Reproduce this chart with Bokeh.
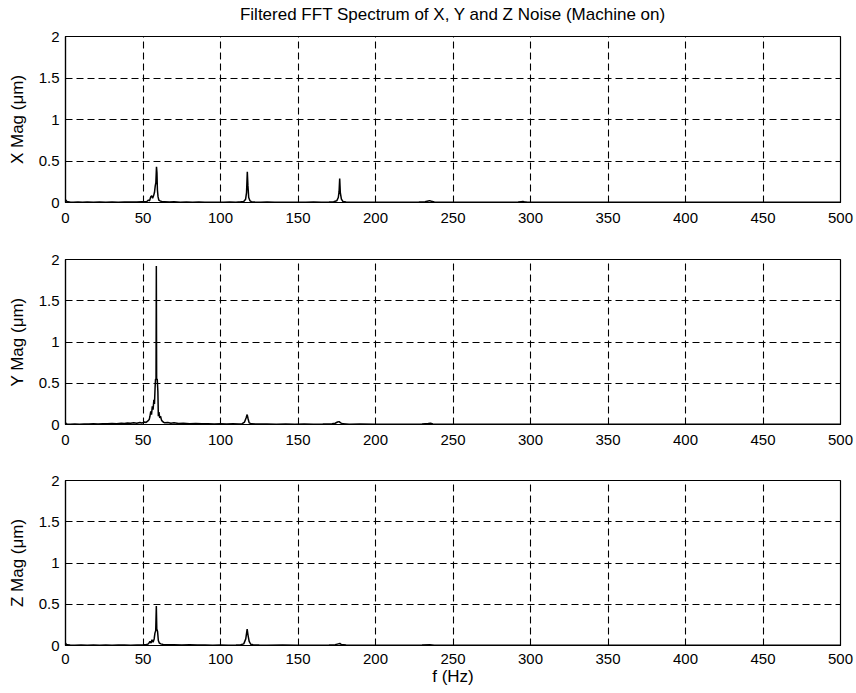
from bokeh.plotting import figure
from bokeh.layouts import column
from bokeh.models import ColumnDataSource, FixedTicker, CustomJSTickFormatter, Range1d, Title
from bokeh.embed import file_html
from bokeh.resources import INLINE

# Filtered FFT magnitude spectra (frequency in Hz, magnitude in micrometres)
freq_x = [0, 0.5, 1, 2, 3, 5, 8, 11, 14, 18, 22, 26, 30, 34, 38, 42, 46, 49, 51, 52.5,
          53.5, 54.2, 55, 55.6, 56.2, 56.8, 57.4, 57.9, 58.3, 58.7, 59.0, 59.3, 59.7, 60.2,
          61, 62, 64, 67, 70, 74, 78, 82, 86, 90, 94, 98, 102, 106, 110, 113, 115, 116.2,
          116.8, 117.3, 117.7, 118.2, 119, 120, 122, 126, 130, 135, 140, 145, 150, 155, 160,
          165, 170, 173, 175, 176, 176.5, 176.9, 177.3, 178, 179, 181, 185, 190, 200, 210,
          220, 228, 232, 234, 235, 236, 238, 244, 255, 265, 275, 285, 292, 294, 295, 296, 298,
          310, 330, 350, 370, 390, 410, 430, 450, 470, 490, 500]
mag_x = [0.035, 0.02, 0.012, 0.008, 0.006, 0.004, 0.005, 0.003, 0.005, 0.004, 0.006, 0.004,
         0.005, 0.003, 0.005, 0.006, 0.005, 0.008, 0.01, 0.012, 0.03, 0.02, 0.07, 0.08, 0.05,
         0.08, 0.12, 0.2, 0.24, 0.43, 0.36, 0.15, 0.07, 0.03, 0.02, 0.012, 0.01, 0.006, 0.008,
         0.004, 0.006, 0.003, 0.005, 0.004, 0.003, 0.004, 0.003, 0.005, 0.004, 0.008, 0.012,
         0.04, 0.12, 0.37, 0.2, 0.06, 0.02, 0.01, 0.006, 0.004, 0.005, 0.003, 0.004, 0.003,
         0.004, 0.003, 0.005, 0.004, 0.006, 0.01, 0.02, 0.06, 0.13, 0.29, 0.12, 0.04, 0.012,
         0.006, 0.004, 0.003, 0.004, 0.003, 0.004, 0.006, 0.01, 0.018, 0.022, 0.014, 0.006,
         0.003, 0.004, 0.002, 0.003, 0.003, 0.006, 0.01, 0.012, 0.008, 0.003, 0.002, 0.003,
         0.002, 0.003, 0.002, 0.003, 0.002, 0.002, 0.003, 0.002, 0.002]

freq_y = [0, 0.5, 1, 3, 6, 9, 12, 15, 18, 21, 24, 27, 30, 33, 36, 38, 40, 42, 44, 46, 48, 49,
          50, 51, 52, 53, 54, 54.5, 55, 55.5, 56, 56.5, 57, 57.4, 57.8, 58.1, 58.4, 58.6, 58.8,
          59.2, 59.6, 59.9, 60.3, 60.8, 61.3, 62, 63, 64, 66, 68, 70, 73, 76, 80, 84, 88, 92,
          96, 100, 104, 108, 112, 114, 115.5, 116.5, 117.2, 117.8, 118.5, 120, 124, 130, 136,
          142, 148, 154, 160, 166, 172, 174, 175.5, 176.5, 177.5, 179, 183, 190, 200, 210, 220,
          230, 234, 235.5, 237, 245, 260, 280, 300, 320, 350, 380, 410, 440, 470, 500]
mag_y = [0.02, 0.01, 0.006, 0.004, 0.006, 0.004, 0.007, 0.005, 0.008, 0.006, 0.01, 0.008,
         0.012, 0.01, 0.015, 0.012, 0.018, 0.014, 0.022, 0.016, 0.025, 0.018, 0.02, 0.03,
         0.025, 0.04, 0.06, 0.1, 0.16, 0.12, 0.22, 0.18, 0.3, 0.25, 0.45, 0.55, 0.55, 1.92,
         0.55, 0.55, 0.4, 0.1, 0.15, 0.08, 0.1, 0.05, 0.03, 0.02, 0.025, 0.015, 0.02, 0.012,
         0.015, 0.01, 0.012, 0.008, 0.01, 0.007, 0.009, 0.006, 0.008, 0.006, 0.01, 0.03, 0.08,
         0.12, 0.07, 0.02, 0.008, 0.005, 0.006, 0.004, 0.005, 0.004, 0.006, 0.004, 0.005,
         0.008, 0.015, 0.03, 0.035, 0.02, 0.008, 0.004, 0.005, 0.003, 0.004, 0.003, 0.006,
         0.012, 0.015, 0.006, 0.003, 0.002, 0.003, 0.002, 0.003, 0.002, 0.002, 0.003, 0.002,
         0.002, 0.002]

freq_z = [0, 0.5, 1, 3, 6, 10, 14, 18, 22, 26, 30, 34, 38, 42, 46, 50, 52, 53.5, 54.5, 55.2,
          55.8, 56.5, 57.2, 57.7, 58.2, 58.6, 58.9, 59.4, 59.9, 60.5, 61.5, 63, 66, 70, 75, 80,
          85, 90, 95, 100, 105, 110, 113, 115, 116.3, 117.2, 117.8, 118.5, 119.5, 121, 125,
          130, 140, 150, 160, 170, 174, 176, 177, 178, 181, 190, 200, 215, 230, 235, 238, 250,
          270, 300, 330, 360, 400, 440, 470, 500]
mag_z = [0.03, 0.015, 0.008, 0.005, 0.004, 0.005, 0.003, 0.005, 0.004, 0.006, 0.004, 0.005,
         0.006, 0.004, 0.006, 0.008, 0.01, 0.02, 0.05, 0.03, 0.07, 0.04, 0.08, 0.15, 0.18,
         0.48, 0.2, 0.17, 0.06, 0.03, 0.02, 0.012, 0.008, 0.01, 0.006, 0.008, 0.005, 0.006,
         0.004, 0.005, 0.004, 0.006, 0.01, 0.02, 0.08, 0.2, 0.12, 0.05, 0.015, 0.008, 0.005,
         0.004, 0.005, 0.003, 0.004, 0.005, 0.01, 0.02, 0.025, 0.012, 0.005, 0.003, 0.004,
         0.003, 0.005, 0.008, 0.004, 0.003, 0.002, 0.003, 0.002, 0.003, 0.002, 0.002, 0.003,
         0.002]

x_ticks = [0, 50, 100, 150, 200, 250, 300, 350, 400, 450, 500]
y_ticks = [0, 0.5, 1, 1.5, 2]
y_labels = ["X Mag (μm)", "Y Mag (μm)", "Z Mag (μm)"]
title_text = "Filtered FFT Spectrum of X, Y and Z Noise (Machine on)"
x_label = "f (Hz)"

FONT = "Liberation Sans"


def make_panel(freq, mag, ylabel, height, top, bottom, show_xlabel=False):
    p = figure(width=856, height=height, output_backend="svg", toolbar_location=None,
               x_range=Range1d(0, 500), y_range=Range1d(0, 2),
               min_border_left=65, min_border_right=16,
               min_border_top=top, min_border_bottom=bottom)
    p.background_fill_color = "white"
    p.border_fill_color = "white"
    p.outline_line_color = "black"
    p.outline_line_width = 1.2

    src = ColumnDataSource(dict(f=freq, m=mag))
    p.line("f", "m", source=src, line_color="black", line_width=1.5)

    for ax in (p.xaxis[0], p.yaxis[0]):
        ax.axis_line_color = "black"
        ax.axis_line_width = 1.2
        ax.major_tick_line_color = "black"
        ax.major_tick_in = 5
        ax.major_tick_out = 0
        ax.minor_tick_line_color = None
        ax.major_label_text_font = FONT
        ax.major_label_text_font_size = "15px"
        ax.major_label_text_color = "black"
        ax.axis_label_text_font = FONT
        ax.axis_label_text_font_style = "normal"
        ax.axis_label_text_color = "black"

    p.xaxis.ticker = FixedTicker(ticks=x_ticks)
    p.yaxis.ticker = FixedTicker(ticks=y_ticks)
    p.yaxis.formatter = CustomJSTickFormatter(code="return tick.toString();")
    p.xaxis.major_label_standoff = 8 if show_xlabel else 10
    p.yaxis.major_label_standoff = 6

    p.yaxis.axis_label = ylabel
    p.yaxis.axis_label_text_font_size = "17px"
    p.yaxis.axis_label_standoff = 9

    if show_xlabel:
        p.xaxis.axis_label = x_label
        p.xaxis.axis_label_text_font_size = "17px"
        p.xaxis.axis_label_standoff = 0

    for g in (p.xgrid[0], p.ygrid[0]):
        g.grid_line_color = "black"
        g.grid_line_dash = "7 4"
        g.grid_line_width = 1.1
    p.xgrid.ticker = FixedTicker(ticks=x_ticks)
    p.ygrid.ticker = FixedTicker(ticks=y_ticks)
    return p


p1 = make_panel(freq_x, mag_x, y_labels[0], 236, 36, 34)
p2 = make_panel(freq_y, mag_y, y_labels[1], 222, 23, 34)
p3 = make_panel(freq_z, mag_z, y_labels[2], 235, 22, 48, show_xlabel=True)

# Overall title on the top panel, lifted clear of the frame by a blank spacer title
p1.title.text = title_text
p1.title.align = "center"
p1.title.vertical_align = "bottom"
p1.title.text_font = FONT
p1.title.text_font_size = "17px"
p1.title.text_font_style = "normal"
p1.title.text_color = "black"
p1.title.standoff = 4
p1.add_layout(Title(text=" ", text_font_size="1px", standoff=8), "above")

layout = column(p1, p2, p3, spacing=0)
open("out.html", "w").write(file_html(layout, INLINE))
